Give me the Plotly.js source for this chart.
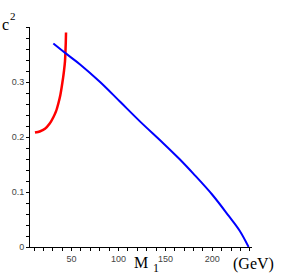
<!DOCTYPE html>
<html>
<head>
<meta charset="utf-8">
<script src="https://cdn.plot.ly/plotly-3.0.1.min.js"></script>
<style>html,body{margin:0;padding:0;background:#fff;}</style>
</head>
<body>
<div id="chart" style="width:281px;height:278px;"></div>
<script>
// Red curve (M1 in GeV, c^2)
const redM1 = [11.0, 16.0, 21.7, 26.5, 30.6, 33.5, 35.9, 38.0, 39.5, 41.0, 42.0, 43.0, 43.4, 43.8, 44.1];
const redC2 = [0.208, 0.210, 0.215, 0.224, 0.236, 0.247, 0.261, 0.276, 0.291, 0.308, 0.321, 0.338, 0.352, 0.370, 0.390];
// Blue curve
const blueM1 = [30.6, 43.8, 59.1, 80.4, 101.8, 123.1, 146.3, 165.0, 180.0, 200.0, 217.3, 229.0, 238.7];
const blueC2 = [0.370, 0.352, 0.332, 0.300, 0.264, 0.228, 0.191, 0.160, 0.133, 0.095, 0.057, 0.030, 0.0];

const xTicks = [50, 100, 150, 200];
const xMinor = [10, 20, 30, 40, 60, 70, 80, 90, 110, 120, 130, 140, 160, 170, 180, 190, 210, 220, 230, 240];
const yTicks = [0, 0.1, 0.2, 0.3];
const yTickText = ['0', '0.1', '0.2', '0.3'];

const traces = [
  {x: redM1, y: redC2, mode: 'lines', line: {color: '#ff0000', width: 2.5, shape: 'spline', smoothing: 0.6}, hoverinfo: 'skip'},
  {x: blueM1, y: blueC2, mode: 'lines', line: {color: '#0000ff', width: 2, shape: 'spline', smoothing: 1}, hoverinfo: 'skip'}
];

const tickFont = {family: 'Liberation Sans, Arial, sans-serif', size: 9, color: '#444'};
const serif = 'Liberation Serif, Times New Roman, serif';
const layout = {
  width: 281, height: 278,
  margin: {l: 30, r: 29, t: 27, b: 31, pad: 0},
  paper_bgcolor: '#fff', plot_bgcolor: '#fff',
  showlegend: false,
  xaxis: {
    range: [5.7, 242.3], showgrid: false, zeroline: false,
    showline: true, linecolor: '#000', linewidth: 1,
    tickvals: xTicks, ticktext: xTicks.map(String),
    ticks: 'outside', ticklen: 3, tickcolor: '#000', tickfont: tickFont,
    minor: {tickvals: xMinor, ticks: 'outside', ticklen: 3, tickcolor: '#000'}
  },
  yaxis: {
    range: [0, 0.4], showgrid: false, zeroline: false,
    showline: true, linecolor: '#000', linewidth: 1,
    tickvals: yTicks, ticktext: yTickText,
    ticks: 'outside', ticklen: 3, tickcolor: '#000', tickfont: tickFont,
    minor: {dtick: 0.02, ticks: 'outside', ticklen: 3, tickcolor: '#000'}
  },
  annotations: [
    {text: 'c', xref: 'paper', yref: 'paper', x: -0.137, y: 1.01, xanchor: 'left', yanchor: 'middle', showarrow: false,
     font: {family: serif, size: 16, color: '#000'}},
    {text: '2', xref: 'paper', yref: 'paper', x: -0.1, y: 1.05, xanchor: 'left', yanchor: 'middle', showarrow: false,
     font: {family: serif, size: 11, color: '#000'}},
    {text: 'M', xref: 'paper', yref: 'paper', x: 0.46, y: -0.072, xanchor: 'left', yanchor: 'middle', showarrow: false,
     font: {family: serif, size: 16, color: '#000'}},
    {text: '1', xref: 'paper', yref: 'paper', x: 0.543, y: -0.096, xanchor: 'left', yanchor: 'middle', showarrow: false,
     font: {family: serif, size: 12, color: '#000'}},
    {text: '(GeV)', xref: 'paper', yref: 'paper', x: 0.905, y: -0.075, xanchor: 'left', yanchor: 'middle', showarrow: false,
     font: {family: serif, size: 16, color: '#000'}}
  ]
};

Plotly.newPlot('chart', traces, layout, {staticPlot: true, displayModeBar: false});
</script>
</body>
</html>
